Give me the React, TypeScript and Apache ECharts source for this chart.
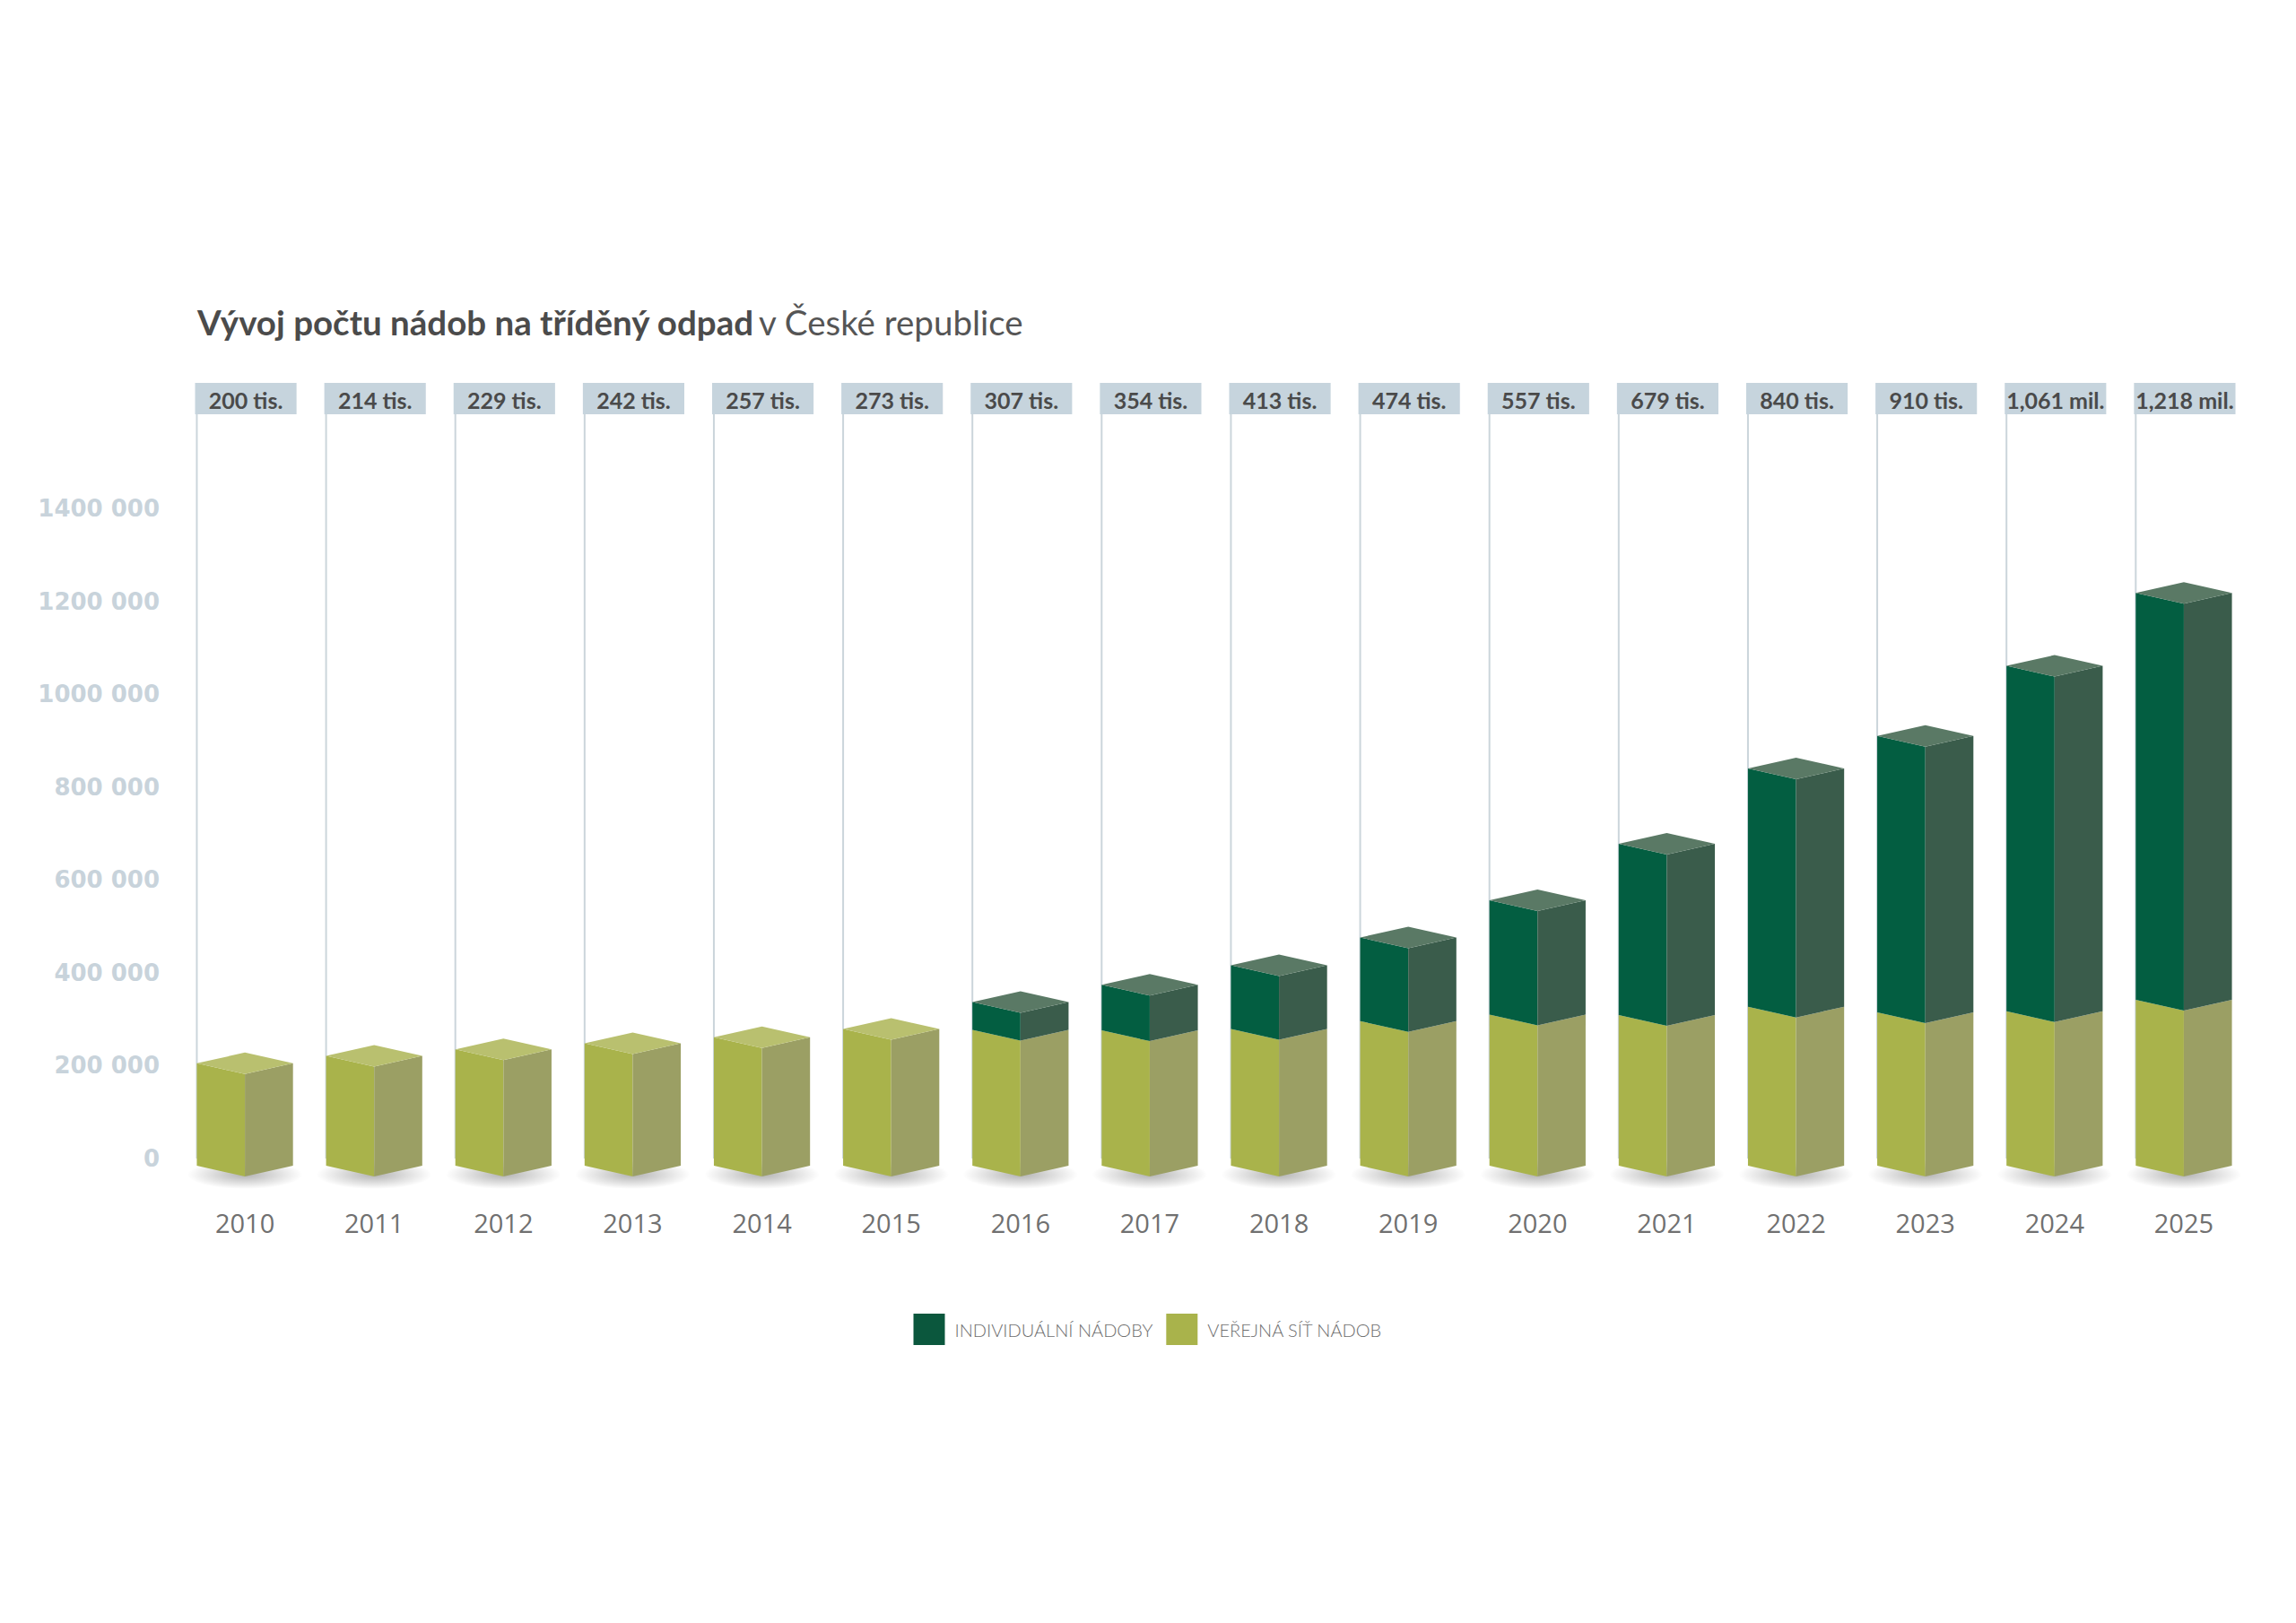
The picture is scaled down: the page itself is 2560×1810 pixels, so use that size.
import { useEffect, useRef } from "react";
import * as echarts from "echarts";

const years = ["2010", "2011", "2012", "2013", "2014", "2015", "2016", "2017", "2018", "2019", "2020", "2021", "2022", "2023", "2024", "2025"];

// veřejná síť (spodní část sloupce)
const publicNet = [205000, 221000, 235000, 248000, 261000, 279000, 277000, 276000, 279000, 296000, 310000, 309000, 327000, 315000, 317000, 342000];

// individuální nádoby (horní část)
const individual = [0, 0, 0, 0, 0, 0, 60000, 98000, 137000, 180000, 246000, 369000, 513000, 595000, 744000, 876000];

const totalLabels = ["200 tis.", "214 tis.", "229 tis.", "242 tis.", "257 tis.", "273 tis.", "307 tis.", "354 tis.", "413 tis.", "474 tis.", "557 tis.", "679 tis.", "840 tis.", "910 tis.", "1,061 mil.", "1,218 mil."];

const yTickLabels = ["0", "200 000", "400 000", "600 000", "800 000", "1000 000", "1200 000", "1400 000"];
const Y_STEP = 200000;
const Y_MAX = 1400000;

const NAME_PUBLIC = "VEŘEJNÁ SÍŤ NÁDOB";
const NAME_INDIVIDUAL = "INDIVIDUÁLNÍ NÁDOBY";

const OLIVE = { front: "#a9b34b", side: "#9b9f64", top: "#b9c06f" };
const GREEN = { front: "#035e41", side: "#3a5c4b", top: "#5a7965" };

const BASE_DROP = 8;

function prism(api: any, colors: typeof OLIVE, withTop: boolean) {
  const i = api.value(0);
  const from = api.value(1);
  const to = api.value(2);
  if (to <= from) {
    return null;
  }
  const band = api.size([1, 0])[0];
  const w = band * 0.372;
  const d = w * 0.224;
  const [cx, y1] = api.coord([i, to]);
  const y0 = api.coord([i, from])[1] + (from === 0 ? BASE_DROP : 0);

  const children: any[] = [
    {
      type: "polygon",
      shape: { points: [[cx - w, y1], [cx, y1 + d], [cx, y0 + d], [cx - w, y0]] },
      style: { fill: colors.front },
    },
    {
      type: "polygon",
      shape: { points: [[cx, y1 + d], [cx + w, y1], [cx + w, y0], [cx, y0 + d]] },
      style: { fill: colors.side },
    },
  ];

  if (withTop) {
    children.push({
      type: "polygon",
      shape: { points: [[cx - w, y1], [cx, y1 - d], [cx + w, y1], [cx, y1 + d]] },
      style: { fill: colors.top },
    });
  }

  return { type: "group", children };
}

function frame(params: any, api: any) {
  const i = api.value(0);
  const band = api.size([1, 0])[0];
  const w = band * 0.372;
  const boxW = band * 0.785;
  const [cx, y0] = api.coord([i, 0]);
  const gridTop = params.coordSys.y;
  const boxTop = gridTop - 140;
  const boxH = 35;

  return {
    type: "group",
    children: [
      {
        type: "line",
        shape: { x1: cx - w, y1: boxTop + boxH, x2: cx - w, y2: y0 },
        style: { stroke: "#cbd5db", lineWidth: 2 },
      },
      {
        type: "rect",
        shape: { x: cx - boxW / 2 + 1, y: boxTop, width: boxW, height: boxH },
        style: { fill: "#c6d4dd" },
      },
      {
        type: "text",
        style: {
          x: cx + 1,
          y: boxTop + boxH / 2 + 1,
          text: totalLabels[i],
          fill: "#4a4a4a",
          font: "bold 25px Lato, 'Open Sans', sans-serif",
          align: "center",
          verticalAlign: "middle",
        },
      },
      {
        type: "ellipse",
        shape: { cx, cy: y0 + BASE_DROP + 10, rx: w * 1.2, ry: 16 },
        style: {
          fill: new echarts.graphic.RadialGradient(0.5, 0.5, 0.5, [
            { offset: 0, color: "rgba(0,0,0,0.30)" },
            { offset: 0.6, color: "rgba(0,0,0,0.12)" },
            { offset: 1, color: "rgba(0,0,0,0)" },
          ]),
        },
      },
    ],
  };
}

export default function App() {
  const chartRef = useRef<HTMLDivElement | null>(null);

  useEffect(() => {
    const el = chartRef.current;
    if (!el) {
      return undefined;
    }

    const chart = echarts.init(el, undefined, { renderer: "svg" });

    chart.setOption({
      animation: false,
      backgroundColor: "#ffffff",
      title: {
        left: 215,
        top: 331,
        text: "{b|Vývoj počtu nádob na tříděný odpad} {r|v České republice}",
        textStyle: {
          rich: {
            b: { fontFamily: "Lato, 'Open Sans', sans-serif", fontWeight: "bold", fontSize: 38.5, color: "#4b4b4b", lineHeight: 46 },
            r: { fontFamily: "Lato, 'Open Sans', sans-serif", fontWeight: "normal", fontSize: 38.5, color: "#555555", lineHeight: 46 },
          },
        },
      },
      legend: {
        data: [NAME_INDIVIDUAL, NAME_PUBLIC],
        left: "center",
        top: 1460,
        icon: "rect",
        itemWidth: 35,
        itemHeight: 35,
        itemGap: 15,
        selectedMode: false,
        textStyle: {
          fontFamily: "Lato, 'Open Sans', sans-serif",
          fontWeight: 300,
          fontSize: 20,
          color: "#6e6e6e",
          padding: [0, 0, 0, 6],
        },
      },
      grid: {
        left: 201,
        right: 53,
        top: 567,
        bottom: 518,
        containLabel: false,
      },
      xAxis: {
        type: "category",
        data: years,
        axisLine: { show: false },
        axisTick: { show: false },
        axisLabel: {
          margin: 71,
          verticalAlign: "middle",
          fontFamily: "'Open Sans', Lato, sans-serif",
          fontSize: 29,
          color: "#707070",
        },
      },
      yAxis: {
        type: "value",
        min: 0,
        max: Y_MAX,
        interval: Y_STEP,
        splitLine: { show: false },
        axisLine: { show: false },
        axisTick: { show: false },
        axisLabel: {
          margin: 23,
          fontFamily: "'DejaVu Sans', Verdana, sans-serif",
          fontWeight: "bold",
          fontSize: 26,
          color: "#c8d3db",
          formatter: (v: number) => yTickLabels[Math.round(v / Y_STEP)] ?? "",
        },
      },
      series: [
        {
          type: "custom",
          name: "frame",
          z: 1,
          silent: true,
          renderItem: frame,
          data: years.map((_, i) => [i]),
          encode: { x: 0 },
        },
        {
          type: "custom",
          name: NAME_PUBLIC,
          z: 2,
          itemStyle: { color: OLIVE.front },
          renderItem: (_params: any, api: any) => prism(api, OLIVE, individual[api.value(0)] === 0),
          data: publicNet.map((v, i) => [i, 0, v]),
          encode: { x: 0, y: 2 },
        },
        {
          type: "custom",
          name: NAME_INDIVIDUAL,
          z: 3,
          itemStyle: { color: "#0b573d" },
          renderItem: (_params: any, api: any) => prism(api, GREEN, true),
          data: individual.map((v, i) => [i, publicNet[i], publicNet[i] + v]),
          encode: { x: 0, y: 2 },
        },
      ],
    });

    return () => {
      chart.dispose();
    };
  }, []);

  return (
    <div
      ref={chartRef}
      style={{
        position: "fixed",
        left: 0,
        top: 0,
        width: "100vw",
        height: "100vh",
        background: "#ffffff",
      }}
    />
  );
}
